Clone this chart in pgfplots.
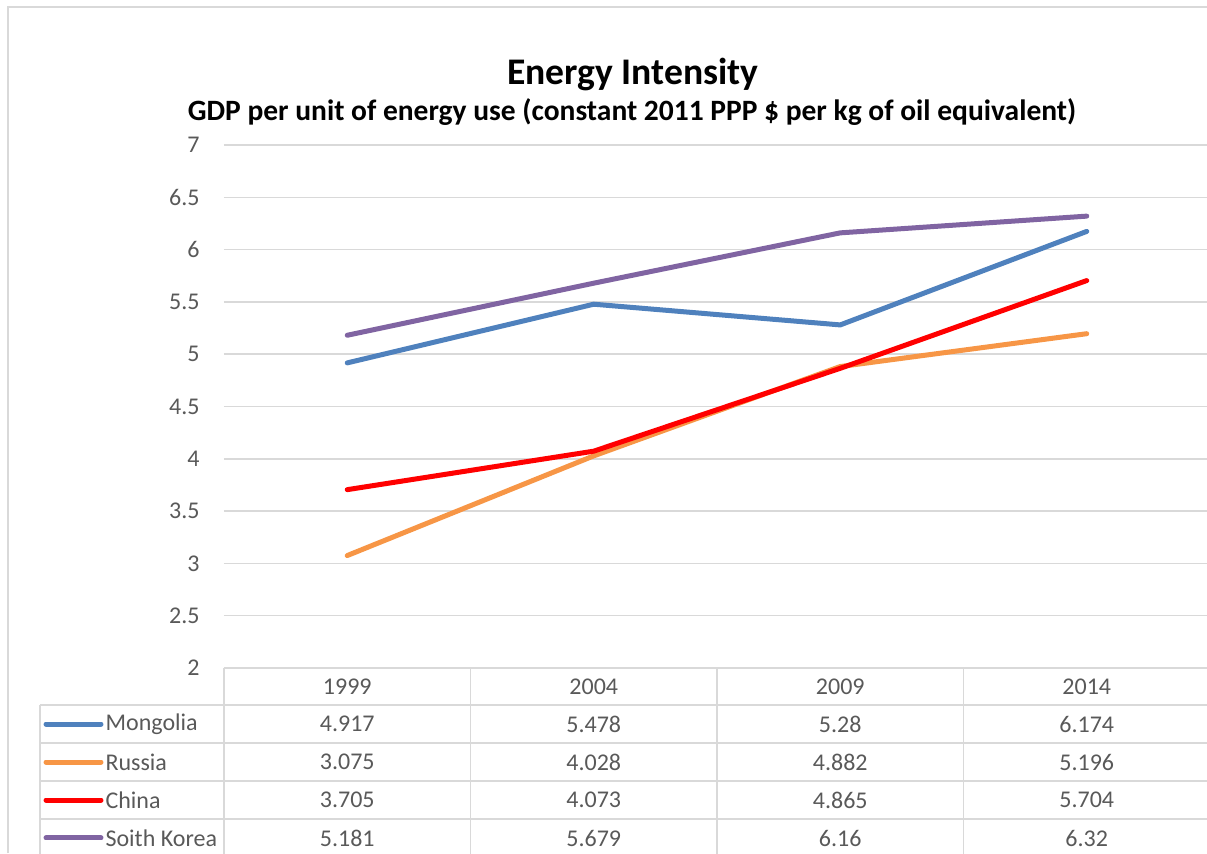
\documentclass[border=0pt]{standalone}
\usepackage{fontspec}
\setmainfont{Carlito}
\usepackage{pgfplots}
\usepackage{pgfplotstable}
\pgfplotsset{compat=1.18}

\definecolor{mongolia}{HTML}{4F81BD}
\definecolor{russia}{HTML}{F79646}
\definecolor{china}{HTML}{FF0000}
\definecolor{korea}{HTML}{8064A2}
\definecolor{gridgray}{HTML}{D9D9D9}
\definecolor{textgray}{HTML}{595959}

% GDP per unit of energy use, constant 2011 PPP $ per kg of oil equivalent
\pgfplotstableread{
x year Mongolia Russia China Korea
0 1999 4.917 3.075 3.705 5.181
1 2004 5.478 4.028 4.073 5.679
2 2009 5.28  4.882 4.865 6.16
3 2014 6.174 5.196 5.704 6.32
}\energy

\tikzset{
  cell/.style={font=\fontsize{12}{14}\selectfont, text=textgray, anchor=center},
  key/.style={line width=2.5pt, line cap=round},
}

\begin{document}
\begin{tikzpicture}
\useasboundingbox (0,0) rectangle (603.5pt,426.5pt);
\clip (0,0) rectangle (603.5pt,426.5pt);
% chart frame (left and top edges)
\draw[gridgray, line width=0.75pt] (4pt,0pt) -- (4pt,423pt) -- (603.5pt,423pt);

\node[anchor=base, font=\bfseries\fontsize{18.8}{22}\selectfont] at (316.5pt,384pt) {Energy Intensity};
\node[anchor=base, font=\bfseries\fontsize{14.75}{17}\selectfont] at (316pt,366pt) {GDP per unit of energy use (constant 2011 PPP \$ per kg of oil equivalent)};

\begin{axis}[
  at={(112pt,92.5pt)}, anchor=south west,
  scale only axis, width=493pt, height=261.5pt,
  xmin=-0.5, xmax=3.5, ymin=2, ymax=7,
  xtick=\empty,
  ytick={2,2.5,3,3.5,4,4.5,5,5.5,6,6.5,7},
  yticklabel style={anchor=east, inner sep=0pt, xshift=-12pt,
    font=\fontsize{12}{14}\selectfont, text=textgray},
  /pgf/number format/assume math mode=true,
  major tick length=0pt,
  ymajorgrids, grid style={gridgray, line width=0.75pt},
  axis line style={draw=none},
  clip=false,
]
\addplot[mongolia, line width=2.5pt, line cap=round, line join=round] table[x=x, y=Mongolia] {\energy};
\addplot[russia, line width=2.5pt, line cap=round, line join=round] table[x=x, y=Russia] {\energy};
\addplot[china, line width=2.5pt, line cap=round, line join=round] table[x=x, y=China] {\energy};
\addplot[korea, line width=2.5pt, line cap=round, line join=round] table[x=x, y=Korea] {\energy};

% data table below the plot
\draw[gridgray, line width=0.75pt]
  (axis cs:-1.246,1.6463) -- (axis cs:3.5,1.6463)
  (axis cs:-1.246,1.2830) -- (axis cs:3.5,1.2830)
  (axis cs:-1.246,0.9197) -- (axis cs:3.5,0.9197)
  (axis cs:-1.246,0.5564) -- (axis cs:3.5,0.5564)
  (axis cs:-1.246,1.6463) -- (axis cs:-1.246,0.1)
  (axis cs:-0.5,2) -- (axis cs:-0.5,0.1)
  (axis cs:0.5,2) -- (axis cs:0.5,0.1)
  (axis cs:1.5,2) -- (axis cs:1.5,0.1)
  (axis cs:2.5,2) -- (axis cs:2.5,0.1);

\node[cell] at (axis cs:0,1.8231) {1999};
\node[cell] at (axis cs:1,1.8231) {2004};
\node[cell] at (axis cs:2,1.8231) {2009};
\node[cell] at (axis cs:3,1.8231) {2014};

\draw[key, mongolia] (axis cs:-1.222,1.4646) -- (axis cs:-0.999,1.4646);
\draw[key, russia]   (axis cs:-1.222,1.1013) -- (axis cs:-0.999,1.1013);
\draw[key, china]    (axis cs:-1.222,0.7380) -- (axis cs:-0.999,0.7380);
\draw[key, korea]    (axis cs:-1.222,0.3748) -- (axis cs:-0.999,0.3748);
\node[cell, anchor=west, inner sep=0pt] at (axis cs:-0.982,1.4646) {Mongolia};
\node[cell, anchor=west, inner sep=0pt] at (axis cs:-0.982,1.1013) {Russia};
\node[cell, anchor=west, inner sep=0pt] at (axis cs:-0.982,0.7380) {China};
\node[cell, anchor=west, inner sep=0pt] at (axis cs:-0.982,0.3748) {Soith Korea};

\node[cell] at (axis cs:0,1.4646) {4.917};
\node[cell] at (axis cs:1,1.4646) {5.478};
\node[cell] at (axis cs:2,1.4646) {5.28};
\node[cell] at (axis cs:3,1.4646) {6.174};

\node[cell] at (axis cs:0,1.1013) {3.075};
\node[cell] at (axis cs:1,1.1013) {4.028};
\node[cell] at (axis cs:2,1.1013) {4.882};
\node[cell] at (axis cs:3,1.1013) {5.196};

\node[cell] at (axis cs:0,0.7380) {3.705};
\node[cell] at (axis cs:1,0.7380) {4.073};
\node[cell] at (axis cs:2,0.7380) {4.865};
\node[cell] at (axis cs:3,0.7380) {5.704};

\node[cell] at (axis cs:0,0.3748) {5.181};
\node[cell] at (axis cs:1,0.3748) {5.679};
\node[cell] at (axis cs:2,0.3748) {6.16};
\node[cell] at (axis cs:3,0.3748) {6.32};
\end{axis}
\end{tikzpicture}
\end{document}
